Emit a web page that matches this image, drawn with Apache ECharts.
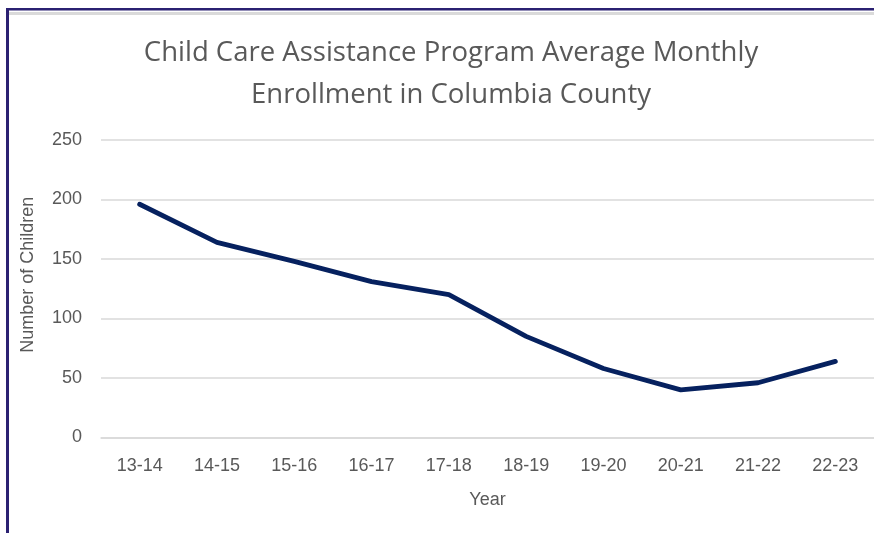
<!DOCTYPE html>
<html>
<head>
<meta charset="utf-8">
<script src="https://cdn.jsdelivr.net/npm/echarts@6/dist/echarts.min.js"></script>
<style>
html,body{margin:0;padding:0;background:#fff;}
#chart{width:874px;height:533px;}
</style>
</head>
<body>
<div id="chart"></div>
<script>
const titleLines = ["Child Care Assistance Program Average Monthly", "Enrollment in Columbia County"];
const years = ["13-14","14-15","15-16","16-17","17-18","18-19","19-20","20-21","21-22","22-23"];
const enrollment = [196, 164, 148, 131, 120, 85, 58, 40, 46, 64];
const yTicks = { min: 0, max: 250, interval: 50 };
const yAxisName = "Number of Children";
const xAxisName = "Year";

const chart = echarts.init(document.getElementById('chart'), null, {renderer: 'canvas'});
chart.setOption({
  animation: false,
  backgroundColor: '#ffffff',
  title: {
    text: titleLines.join('\n'),
    left: 446, top: 27, textAlign: 'center',
    textStyle: { fontFamily: 'Open Sans', fontWeight: 'normal', fontSize: 27.5, color: '#595959', lineHeight: 42 }
  },
  graphic: [
    { type: 'rect', shape: { x: 6, y: 8, width: 3, height: 530 }, style: { fill: '#2b2172' }, silent: true },
    { type: 'rect', shape: { x: 6, y: 8, width: 870, height: 2.5 }, style: { fill: '#2b2172' }, silent: true },
    { type: 'rect', shape: { x: 9, y: 12, width: 870, height: 3 }, style: { fill: '#dadada' }, silent: true }
  ],
  grid: { left: 101, top: 140, width: 779, height: 297.5, containLabel: false },
  xAxis: {
    type: 'category', data: years, boundaryGap: true,
    name: xAxisName, nameLocation: 'middle', nameGap: 54,
    nameTextStyle: { fontFamily: 'Liberation Sans', fontSize: 18, color: '#595959' },
    axisLine: { show: true, lineStyle: { color: '#d9d9d9', width: 1.5 } },
    axisTick: { show: false },
    axisLabel: { margin: 20, fontFamily: 'Liberation Sans', fontSize: 18, color: '#595959' }
  },
  yAxis: {
    type: 'value', min: yTicks.min, max: yTicks.max, interval: yTicks.interval,
    name: yAxisName, nameLocation: 'middle', nameGap: 64,
    nameTextStyle: { fontFamily: 'Liberation Sans', fontSize: 18, color: '#595959', padding: [0, 0, 0, 28] },
    axisLine: { show: false }, axisTick: { show: false },
    axisLabel: { margin: 19, fontFamily: 'Liberation Sans', fontSize: 18, color: '#595959' },
    splitLine: { lineStyle: { color: '#d9d9d9', width: 1.5 } }
  },
  series: [{
    type: 'line', data: enrollment, symbol: 'none', smooth: false,
    lineStyle: { color: '#06215f', width: 4.8, cap: 'round', join: 'round' }
  }]
});
</script>
</body>
</html>
